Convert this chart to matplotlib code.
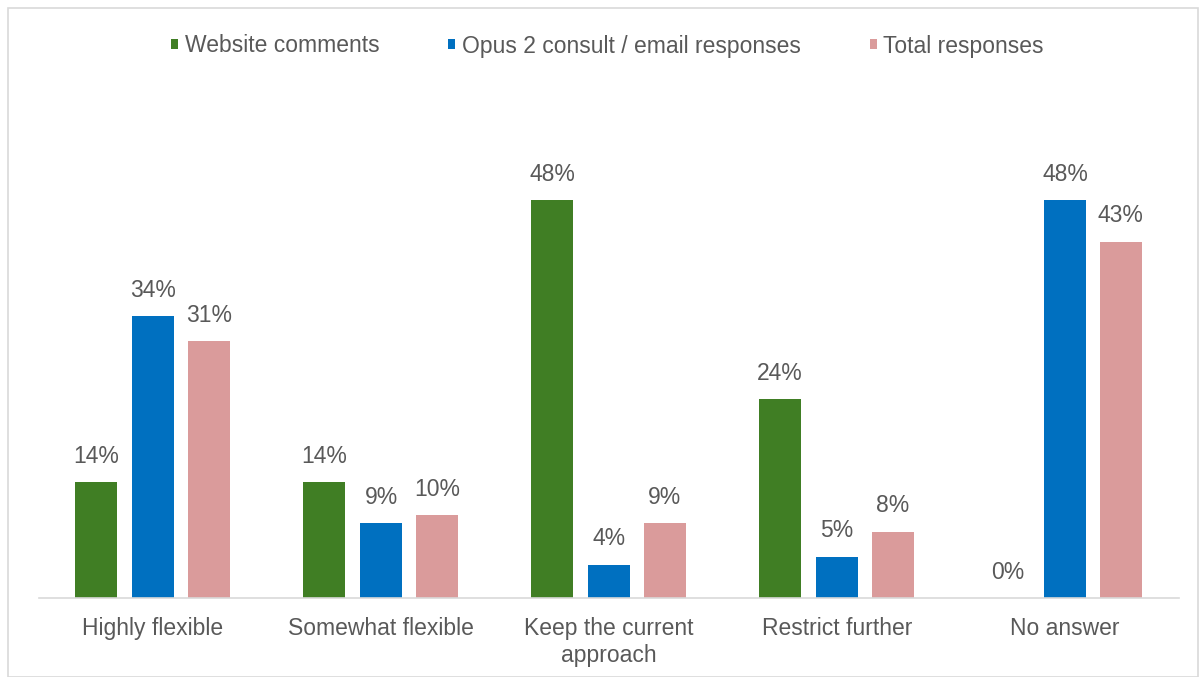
import numpy as np
import matplotlib.pyplot as plt
from matplotlib.patches import Rectangle

categories = ["Highly flexible", "Somewhat flexible", "Keep the current\napproach",
              "Restrict further", "No answer"]
series_names = ["Website comments", "Opus 2 consult / email responses", "Total responses"]
website = [14, 14, 48, 24, 0]
opus = [34, 9, 4, 5, 48]
total = [31, 10, 9, 8, 43]
colors = ["#407e24", "#0070c0", "#da9b9b"]

plt.rcParams["font.family"] = ["Liberation Sans", "DejaVu Sans"]
text_color = "#595959"
fs = 16.5

fig = plt.figure(figsize=(12.03, 6.77), dpi=100)
ax = fig.add_axes([39 / 1203, 1 - 598 / 677, 1140 / 1203, 497 / 677])

x = np.arange(len(categories))
width = 0.184
offsets = [-0.25, 0, 0.245]
for vals, off, col, name in zip([website, opus, total], offsets, colors, series_names):
    bars = ax.bar(x + off, vals, width, color=col, label=name)
    for b, v in zip(bars, vals):
        ax.annotate(f"{v}%", (b.get_x() + b.get_width() / 2, v), xytext=(0, 14),
                    textcoords="offset points", ha="center", va="baseline",
                    fontsize=fs, color=text_color)

ax.set_xlim(-0.5, 4.5)
ax.set_ylim(0, 60)
ax.set_yticks([])
ax.set_xticks(x)
ax.set_xticklabels(categories, fontsize=fs, color=text_color, linespacing=1.25)
ax.tick_params(axis="x", length=0, pad=13.5)
for s in ["top", "right", "left"]:
    ax.spines[s].set_visible(False)
ax.spines["bottom"].set_color("#d9d9d9")
ax.spines["bottom"].set_linewidth(1.2)

leg = fig.legend(loc="center", bbox_to_anchor=(0.505, 1 - 46 / 677), ncol=3, frameon=False,
                 fontsize=fs, handlelength=0.3, handleheight=0.3, handletextpad=0.3,
                 columnspacing=3.0)
for t in leg.get_texts():
    t.set_color(text_color)

fig.patches.append(Rectangle((8 / 1203, 0), 1190 / 1203, 1 - 8 / 677, transform=fig.transFigure,
                             fill=False, edgecolor="#d9d9d9", linewidth=1.2))

fig.savefig("out.png", dpi=100)
